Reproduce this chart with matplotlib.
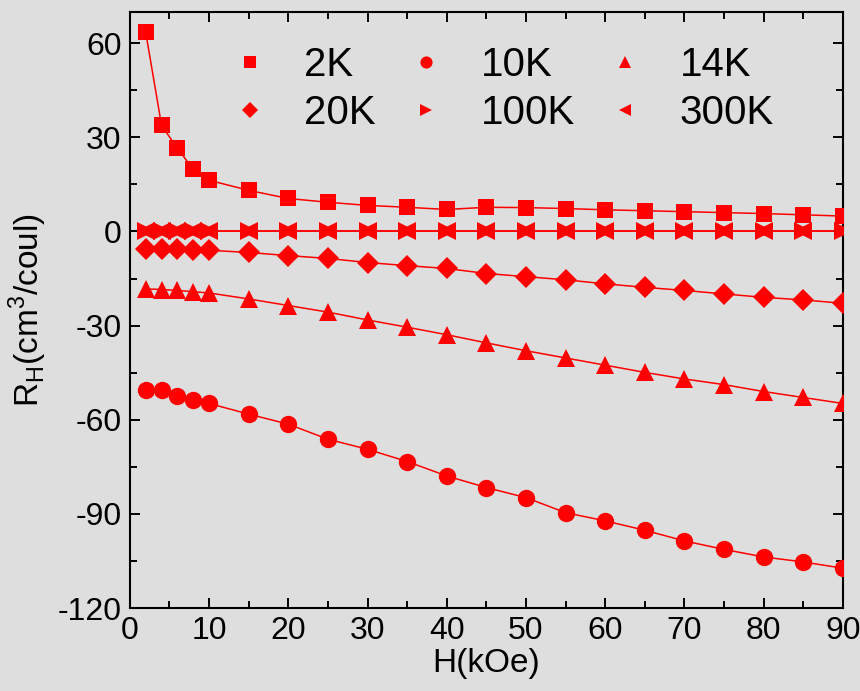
import matplotlib
matplotlib.use('Agg')
import matplotlib.pyplot as plt
from matplotlib.ticker import MultipleLocator

plt.rcParams['font.family'] = ['Liberation Sans', 'DejaVu Sans']
plt.rcParams['mathtext.fontset'] = 'custom'
plt.rcParams['mathtext.rm'] = 'Liberation Sans'
plt.rcParams['axes.unicode_minus'] = False

# field values (kOe)
H = [2, 4, 6, 8, 10, 15, 20, 25, 30, 35, 40, 45, 50, 55, 60, 65, 70, 75, 80, 85, 90]

# Hall coefficient (cm^3/coul) per temperature
r_2K = [63.5, 33.8, 26.5, 19.8, 16.3, 13.1, 10.5, 9.3, 8.3, 7.7, 7.0, 7.7,
        7.6, 7.3, 6.9, 6.6, 6.3, 6.0, 5.7, 5.3, 4.9]
r_10K = [-50.5, -50.5, -52.3, -53.7, -54.8, -58.2, -61.4, -66.2, -69.4, -73.3,
         -77.9, -81.6, -84.8, -89.6, -92.2, -95.2, -98.6, -101.3, -103.7, -105.3, -107.3]
r_14K = [-18.3, -18.5, -18.8, -19.2, -19.6, -21.5, -23.6, -25.7, -28.2, -30.5,
         -32.9, -35.5, -38.0, -40.3, -42.6, -44.9, -47.0, -48.8, -51.0, -52.9, -54.8]
r_20K = [-5.5, -5.5, -5.7, -5.8, -6.0, -6.7, -7.7, -8.6, -9.9, -10.9,
         -11.8, -13.4, -14.4, -15.4, -16.7, -17.8, -18.8, -19.9, -21.0, -21.8, -22.9]
r_100K = [0.0] * len(H)
r_300K = [0.0] * len(H)

series = [
    ('2K', r_2K, 's', 12),
    ('10K', r_10K, 'o', 12.5),
    ('14K', r_14K, '^', 13),
    ('20K', r_20K, 'D', 11),
    ('100K', r_100K, '>', 13),
    ('300K', r_300K, '<', 13),
]

bg = '#dedede'
fig = plt.figure(figsize=(8.6, 6.91), dpi=100, facecolor=bg)
ax = fig.add_axes([0.151, 0.120, 0.829, 0.863])
ax.set_facecolor(bg)

for name, vals, mk, ms in series:
    ax.plot(H, vals, color='red', linewidth=1.1, zorder=2)
handles = []
for name, vals, mk, ms in series:
    h, = ax.plot(H, vals, linestyle='none', marker=mk, markersize=ms,
                 color='red', markeredgewidth=0, label=name, zorder=3)
    handles.append(h)

ax.set_xlim(0, 90)
ax.set_ylim(-120, 70)
ax.xaxis.set_major_locator(MultipleLocator(10))
ax.xaxis.set_minor_locator(MultipleLocator(5))
ax.yaxis.set_major_locator(MultipleLocator(30))
ax.yaxis.set_minor_locator(MultipleLocator(15))
ax.tick_params(which='both', direction='in', top=True, right=True,
               width=1.4, labelsize=23, pad=6)
ax.tick_params(which='major', length=7)
ax.tick_params(which='minor', length=5)
for sp in ax.spines.values():
    sp.set_linewidth(1.5)

ax.set_xlabel('H(kOe)', fontsize=24, labelpad=1)
ax.set_ylabel(r'R$_\mathregular{H}$(cm$^\mathregular{3}$/coul)', fontsize=24, labelpad=6)

# legend fills column by column, reorder so rows read 2K 10K 14K / 20K 100K 300K
order = [0, 3, 1, 4, 2, 5]
ax.legend([handles[i] for i in order], [series[i][0] for i in order],
          ncol=3, loc='upper left', bbox_to_anchor=(0.14, 0.942),
          frameon=False, fontsize=29, markerscale=0.7, handlelength=1.0,
          handletextpad=0.85, columnspacing=0.75, labelspacing=0.25,
          borderaxespad=0, borderpad=0, numpoints=1)

fig.savefig('out.png', dpi=100, facecolor=bg)
